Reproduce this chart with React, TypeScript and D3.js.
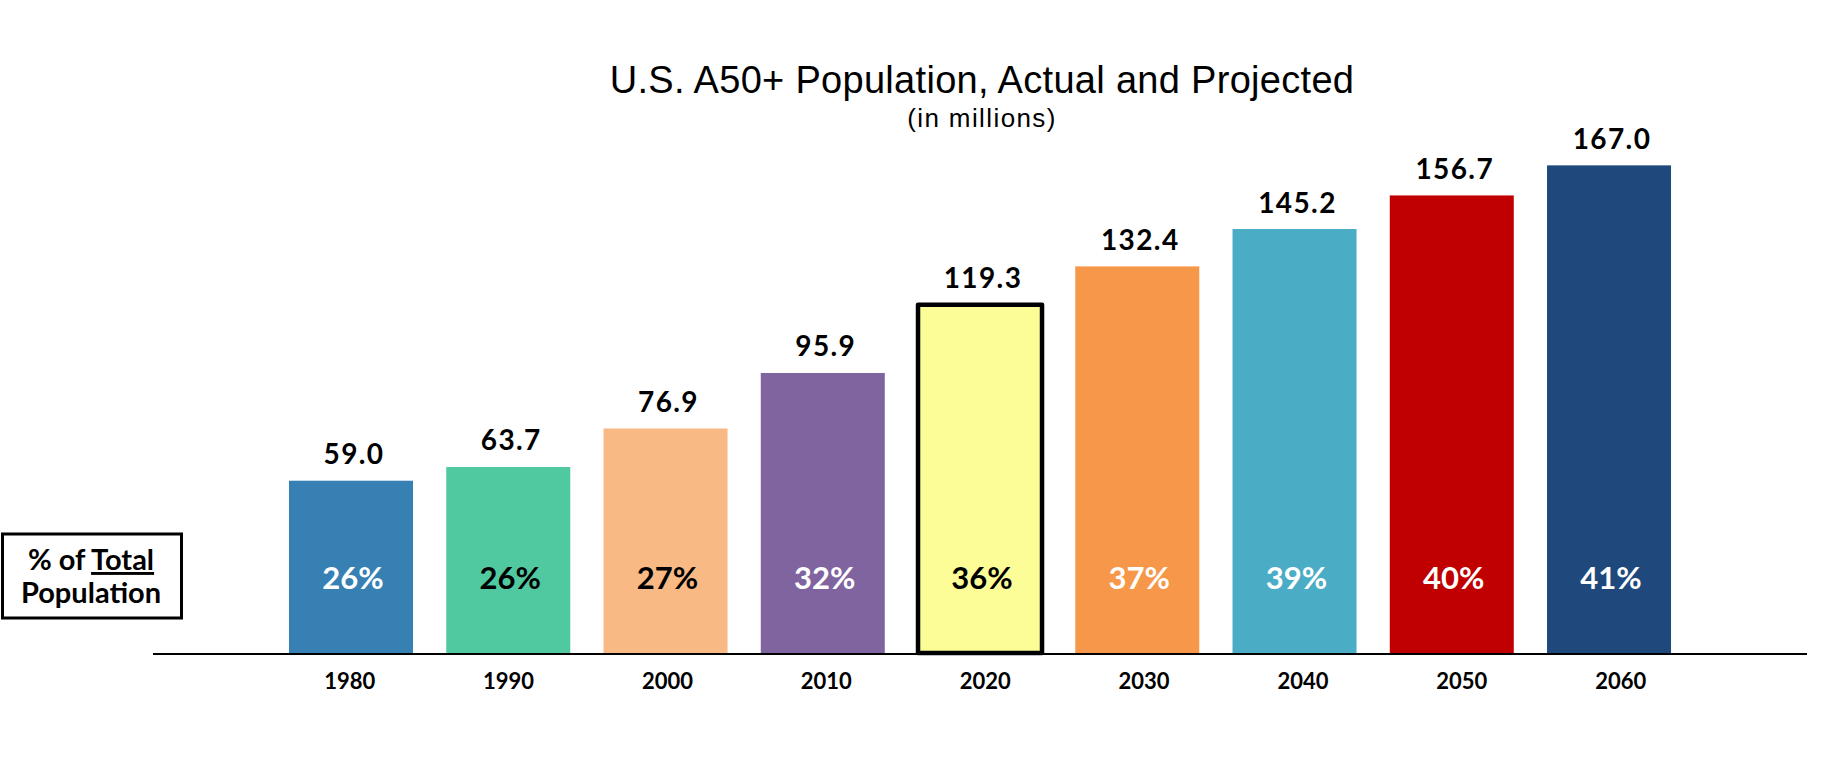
import React from "react";
import * as d3 from "d3";

const years = ["1980", "1990", "2000", "2010", "2020", "2030", "2040", "2050", "2060"];
const population = [59.0, 63.7, 76.9, 95.9, 119.3, 132.4, 145.2, 156.7, 167.0];
const shareOfTotal = ["26%", "26%", "27%", "32%", "36%", "37%", "39%", "40%", "41%"];
const barColors = ["#3680B4", "#50C9A0", "#F9B985", "#8064A0", "#FDFD98", "#F69749", "#4BACC6", "#C00000", "#1F497D"];
const shareTextColors = ["#FFFFFF", "#000000", "#000000", "#FFFFFF", "#000000", "#FFFFFF", "#FFFFFF", "#FFFFFF", "#FFFFFF"];
const highlighted = ["2020"];

const W = 1829;
const H = 766;
const baseY = 653;

export default function App() {
  const x = d3.scaleBand<string>().domain(years).range([272.4, 1687.65]).paddingInner(0.2114).paddingOuter(0.1057);
  const xLabel = d3.scalePoint<string>().domain(years).range([349.7, 1620.7]);
  const y = d3.scaleLinear().domain([0, 180]).range([baseY, baseY - 180 * 2.92]);
  const bw = x.bandwidth();
  const labelFont = "Lato, 'DejaVu Sans', sans-serif";

  return (
    <svg width={W} height={H} style={{ position: "absolute", left: 0, top: 0, background: "#fff" }}>
      <rect x={0} y={0} width={W} height={H} fill="#fff" />
      <text x={982} y={93} textAnchor="middle" fontFamily="'Liberation Sans', sans-serif" fontSize={38} letterSpacing={0.3} fill="#000">
        U.S. A50+ Population, Actual and Projected
      </text>
      <text x={982} y={127} textAnchor="middle" fontFamily="'Liberation Sans', sans-serif" fontSize={26} letterSpacing={1.4} fill="#000">
        (in millions)
      </text>

      {years.map((yr, i) => {
        const x0 = x(yr)!;
        const top = y(population[i]);
        const hl = highlighted.includes(yr);
        return (
          <g key={yr}>
            <rect
              x={x0}
              y={top}
              width={bw}
              height={baseY - top}
              fill={barColors[i]}
              stroke={hl ? "#000" : "none"}
              strokeWidth={hl ? 4.5 : 0}
              strokeLinejoin="round"
            />
            <text x={x0 + bw / 2 + 3} y={top - 16.5} textAnchor="middle" fontFamily={labelFont} fontWeight={700} fontSize={28} letterSpacing={1.4} fill="#000">
              {population[i].toFixed(1)}
            </text>
            <text x={x0 + bw / 2 + 2} y={589} textAnchor="middle" fontFamily={labelFont} fontWeight={700} fontSize={31} fill={shareTextColors[i]}>
              {shareOfTotal[i]}
            </text>
            <text x={xLabel(yr)!} y={689} textAnchor="middle" fontFamily={labelFont} fontWeight={700} fontSize={22} fill="#000">
              {yr}
            </text>
          </g>
        );
      })}

      <line x1={153} x2={1807} y1={654} y2={654} stroke="#000" strokeWidth={2} />

      <rect x={2.5} y={534} width={179} height={84} fill="#fff" stroke="#000" strokeWidth={3} />
      <text x={91} y={570} textAnchor="middle" fontFamily={labelFont} fontWeight={700} fontSize={29} fill="#000">
        % of <tspan textDecoration="underline">Total</tspan>
      </text>
      <text x={91} y={603} textAnchor="middle" fontFamily={labelFont} fontWeight={700} fontSize={29} fill="#000">
        Population
      </text>
    </svg>
  );
}
